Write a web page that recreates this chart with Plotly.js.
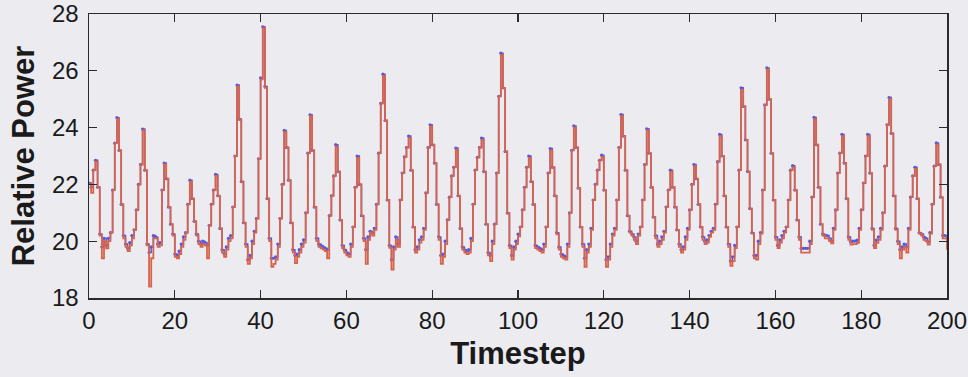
<!DOCTYPE html>
<html>
<head>
<meta charset="utf-8">
<script src="https://cdn.plot.ly/plotly-3.0.1.min.js"></script>
<style>
  html, body { margin: 0; padding: 0; background: #ebebf0; }
  #chart { width: 968px; height: 377px; }
</style>
</head>
<body>
<div id="chart"></div>
<script>
// Sampling interval of the series (timesteps per sample)
const sampleStep = 0.5;

// Red series (drawn on top), one value per half timestep, t = 0 .. 200
const redPower = [
  22.0, 21.7, 22.5, 22.8, 21.9, 20.2, 19.4, 20.0, 19.75, 20.0,
  20.3, 21.8, 23.45, 24.3, 23.2, 21.3, 20.1, 19.8, 19.65, 19.85,
  20.1, 20.4, 21.1, 22.0, 22.7, 23.9, 22.5, 19.85, 18.4, 19.4,
  20.1, 20.1, 19.8, 19.85, 21.8, 22.7, 22.2, 21.2, 20.6, 20.2,
  19.45, 19.4, 19.55, 19.8, 20.05, 20.3, 21.3, 22.1, 21.5, 20.7,
  20.2, 19.9, 19.8, 19.9, 19.85, 19.4, 20.55, 21.3, 21.8, 22.3,
  21.6, 20.45, 19.6, 19.45, 19.7, 20.0, 20.1, 21.2, 23.0, 25.44,
  24.27, 22.1, 20.65, 19.8, 19.2, 19.4, 19.9, 20.3, 20.8, 22.9,
  25.7, 27.5, 25.4, 21.5, 20.0, 19.1, 19.2, 19.35, 19.8, 20.8,
  22.0, 23.85, 23.3, 22.15, 20.65, 19.6, 19.23, 19.45, 19.6, 19.8,
  19.95, 21.0, 23.1, 24.4, 23.2, 21.2, 20.0, 19.8, 19.75, 19.7,
  19.65, 19.4, 20.9, 21.6, 22.3, 23.33, 22.45, 20.75, 19.76, 19.6,
  19.5, 19.45, 19.8, 20.5, 21.9, 22.93, 22.0, 20.9, 20.0, 19.2,
  20.05, 20.3, 20.2, 20.4, 21.3, 23.1, 24.85, 25.82, 24.25, 21.45,
  19.77, 19.0, 19.7, 20.05, 19.8, 21.45, 22.4, 22.97, 23.3, 23.63,
  22.5, 20.5, 19.6, 19.7, 19.95, 20.05, 20.4, 21.7, 23.3, 24.04,
  23.4, 22.75, 21.3, 20.05, 19.2, 19.45, 19.9, 20.75, 21.55, 22.3,
  22.6, 23.22, 21.6, 20.45, 19.7, 19.6, 19.55, 19.6, 20.0, 21.3,
  22.5, 22.95, 23.3, 23.57, 22.45, 20.6, 19.5, 19.3, 19.9, 20.6,
  22.4, 25.1, 26.56, 25.4, 23.16, 20.99, 19.76, 19.35, 19.7, 19.9,
  20.17, 20.5, 21.1, 21.9, 22.6, 22.93, 22.1, 21.3, 19.76, 19.7,
  19.65, 19.6, 19.8, 20.5, 22.4, 23.2, 22.6, 21.6, 20.24, 19.7,
  19.45, 19.4, 19.35, 19.8, 21.0, 23.2, 24.0, 23.3, 21.87, 20.5,
  19.8, 19.1, 19.6, 19.8, 20.4, 21.45, 22.0, 22.5, 22.85, 22.97,
  21.8, 19.1, 19.35, 19.8, 20.2, 20.4, 21.45, 23.3, 24.4, 23.7,
  22.5, 20.9, 20.3, 20.2, 20.05, 19.9, 20.2, 20.5, 21.45, 22.7,
  23.9, 23.1, 21.9, 20.85, 20.1, 19.8, 19.9, 20.05, 20.3, 21.2,
  21.8, 22.45, 21.9, 21.2, 20.4, 19.8, 19.6, 19.7, 20.05, 20.4,
  21.1, 22.0, 22.64, 22.2, 21.3, 20.5, 20.05, 19.9, 19.95, 20.15,
  20.3, 20.4, 21.3, 22.8, 23.7, 23.0, 21.6, 20.5, 19.8, 19.13,
  19.3, 19.76, 20.5, 22.5, 25.33, 24.75, 23.57, 22.45, 21.15, 20.27,
  19.4, 19.35, 19.9, 20.27, 21.8, 24.8, 26.05, 25.0, 23.1, 21.45,
  20.05, 19.76, 19.95, 20.1, 20.3, 20.5, 21.45, 22.5, 22.6, 21.8,
  20.75, 20.05, 19.6, 19.6, 19.6, 19.6, 19.9, 21.55, 24.3, 23.4,
  21.9, 20.6, 20.2, 20.1, 20.1, 20.0, 19.92, 20.4, 21.1, 22.4,
  23.1, 23.7, 22.75, 21.5, 20.05, 19.88, 19.9, 19.9, 19.94, 20.4,
  21.1, 22.05, 23.0, 23.7, 22.4, 20.4, 19.76, 19.94, 20.05, 20.4,
  21.0, 22.64, 24.1, 25.0, 23.8, 21.6, 20.4, 19.9, 19.4, 19.7,
  19.8, 19.6, 20.4, 21.55, 22.3, 22.55, 21.5, 20.27, 20.2, 20.05,
  20.0, 19.88, 20.27, 21.3, 22.64, 23.4, 22.7, 21.55, 20.1, 20.1,
  19.7
];

// Blue series (drawn underneath), same sampling
const bluePower = [
  22.05, 21.9, 22.5, 22.85, 21.9, 20.25, 19.8, 20.1, 19.85, 20.1,
  20.3, 21.8, 23.45, 24.35, 23.2, 21.3, 20.2, 19.9, 19.75, 19.95,
  20.2, 20.4, 21.1, 22.0, 22.7, 23.95, 22.5, 19.9, 19.6, 19.8,
  20.2, 20.15, 19.9, 19.95, 21.8, 22.75, 22.2, 21.2, 20.6, 20.25,
  19.55, 19.5, 19.65, 19.9, 20.15, 20.3, 21.3, 22.15, 21.5, 20.7,
  20.25, 20.0, 19.9, 20.0, 19.95, 19.85, 20.55, 21.3, 21.8, 22.35,
  21.6, 20.45, 19.7, 19.55, 19.8, 20.1, 20.2, 21.2, 23.0, 25.5,
  24.3, 22.1, 20.65, 19.9, 19.35, 19.5, 20.0, 20.35, 20.8, 22.9,
  25.75, 27.55, 25.45, 21.5, 20.1, 19.4, 19.4, 19.45, 19.9, 20.8,
  22.0, 23.9, 23.3, 22.15, 20.65, 19.7, 19.5, 19.55, 19.7, 19.9,
  20.05, 21.0, 23.1, 24.45, 23.2, 21.2, 20.1, 19.9, 19.85, 19.8,
  19.75, 19.7, 20.9, 21.6, 22.3, 23.4, 22.45, 20.75, 19.85, 19.7,
  19.6, 19.55, 19.9, 20.5, 21.9, 23.0, 22.0, 20.9, 20.1, 19.7,
  20.15, 20.35, 20.3, 20.45, 21.3, 23.1, 24.85, 25.88, 24.25, 21.45,
  19.85, 19.35, 19.8, 20.15, 19.9, 21.45, 22.4, 22.97, 23.3, 23.7,
  22.5, 20.5, 19.7, 19.8, 20.05, 20.15, 20.45, 21.7, 23.3, 24.1,
  23.4, 22.75, 21.3, 20.15, 19.5, 19.55, 20.0, 20.75, 21.55, 22.3,
  22.6, 23.28, 21.6, 20.45, 19.8, 19.7, 19.65, 19.7, 20.1, 21.3,
  22.5, 22.95, 23.3, 23.63, 22.45, 20.6, 19.6, 19.5, 20.0, 20.6,
  22.4, 25.1, 26.62, 25.4, 23.16, 20.99, 19.85, 19.5, 19.8, 20.0,
  20.25, 20.5, 21.1, 21.9, 22.6, 23.0, 22.1, 21.3, 19.85, 19.8,
  19.75, 19.7, 19.9, 20.5, 22.4, 23.26, 22.6, 21.6, 20.3, 19.8,
  19.55, 19.5, 19.45, 19.9, 21.0, 23.2, 24.06, 23.3, 21.87, 20.5,
  19.9, 19.4, 19.7, 19.9, 20.45, 21.45, 22.0, 22.5, 22.85, 23.03,
  21.8, 19.35, 19.45, 19.9, 20.25, 20.45, 21.45, 23.3, 24.46, 23.7,
  22.5, 20.9, 20.35, 20.25, 20.15, 20.0, 20.25, 20.5, 21.45, 22.7,
  23.96, 23.1, 21.9, 20.85, 20.2, 19.9, 20.0, 20.15, 20.35, 21.2,
  21.8, 22.5, 21.9, 21.2, 20.4, 19.9, 19.7, 19.8, 20.15, 20.45,
  21.1, 22.0, 22.7, 22.2, 21.3, 20.5, 20.15, 20.0, 20.05, 20.2,
  20.35, 20.45, 21.3, 22.8, 23.76, 23.0, 21.6, 20.5, 19.9, 19.3,
  19.45, 19.85, 20.5, 22.5, 25.4, 24.75, 23.57, 22.45, 21.15, 20.3,
  19.5, 19.5, 20.0, 20.3, 21.8, 24.8, 26.1, 25.0, 23.1, 21.45,
  20.15, 19.85, 20.05, 20.2, 20.35, 20.5, 21.45, 22.5, 22.66, 21.8,
  20.75, 20.15, 19.75, 19.75, 19.75, 19.75, 20.0, 21.55, 24.36, 23.4,
  21.9, 20.6, 20.25, 20.2, 20.2, 20.1, 20.0, 20.45, 21.1, 22.4,
  23.1, 23.76, 22.75, 21.5, 20.15, 19.98, 20.0, 20.0, 20.04, 20.45,
  21.1, 22.05, 23.0, 23.76, 22.4, 20.45, 19.86, 20.04, 20.15, 20.45,
  21.0, 22.64, 24.1, 25.06, 23.8, 21.6, 20.45, 20.0, 19.7, 19.8,
  19.9, 19.8, 20.45, 21.55, 22.3, 22.6, 21.5, 20.3, 20.25, 20.15,
  20.1, 19.98, 20.3, 21.3, 22.64, 23.46, 22.7, 21.55, 20.2, 20.2,
  20.1
];

const xTicks = [0, 20, 40, 60, 80, 100, 120, 140, 160, 180, 200];
const yTicks = [18, 20, 22, 24, 26, 28];

// sample times (index * sampling interval)
const timesteps = redPower.map((_, i) => i * sampleStep);

const tickFont = { family: "'Liberation Sans Narrow', 'Arial Narrow', 'Liberation Sans', Arial, sans-serif", size: 24, color: '#1a1a1a' };
const titleFont = { family: "'Liberation Sans', Arial, sans-serif", size: 31, color: '#1a1a1a', weight: 'bold' };

const traces = [
  {
    x: timesteps, y: bluePower, type: 'scatter', mode: 'lines+markers',
    line: { shape: 'hv', color: '#5a5ad8', width: 1.5 },
    marker: { color: '#5a5ad8', size: 3.2 },
    hoverinfo: 'skip'
  },
  {
    x: timesteps, y: redPower, type: 'scatter', mode: 'lines',
    line: { shape: 'hv', color: '#d8634b', width: 1.8 },
    hoverinfo: 'skip'
  }
];

const axisCommon = {
  showgrid: false, zeroline: false,
  showline: true, linecolor: '#2a2a2a', linewidth: 1.5,
  mirror: 'ticks', ticks: 'inside', ticklen: 8, tickwidth: 1.3, tickcolor: '#2a2a2a',
  tickfont: tickFont, fixedrange: true
};

const layout = {
  width: 968, height: 377,
  paper_bgcolor: '#ebebf0', plot_bgcolor: '#ebebf0',
  margin: { l: 89, r: 21, t: 14, b: 79, pad: 0 },
  showlegend: false,
  xaxis: Object.assign({}, axisCommon, {
    range: [0, 200], tickmode: 'array', tickvals: xTicks, ticktext: xTicks.map(String),
    ticklabelstandoff: 1,
    title: { text: 'Timestep', font: titleFont, standoff: 9 }
  }),
  yaxis: Object.assign({}, axisCommon, {
    range: [18, 28], tickmode: 'array', tickvals: yTicks, ticktext: yTicks.map(String),
    ticklabelstandoff: 4,
    title: { text: 'Relative Power', font: titleFont, standoff: 8 }
  })
};

Plotly.newPlot('chart', traces, layout, { staticPlot: true, displayModeBar: false });
</script>
</body>
</html>
